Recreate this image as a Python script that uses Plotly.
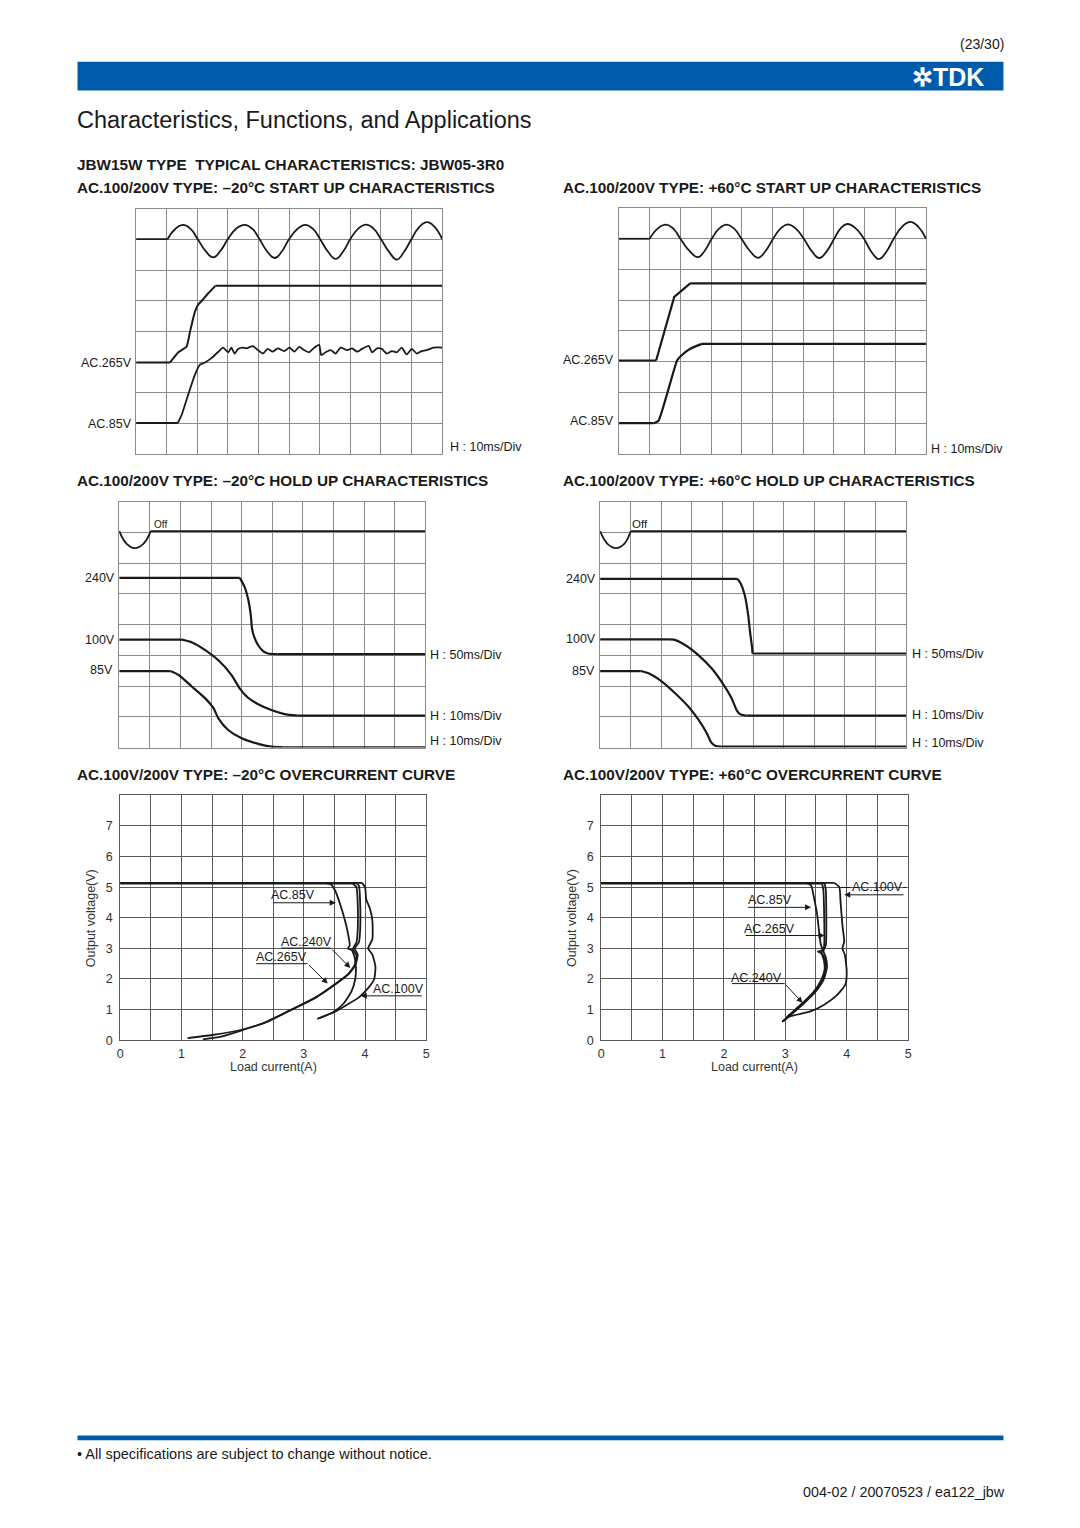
import plotly.graph_objects as go

W, H = 1080, 1528

# ---------------- DATA (division units for scope charts) ----------------
# Chart 1: -20C start up
c1_ac_x = [0, 1.03, 1.28, 1.54, 1.78, 2.01, 2.26, 2.52, 2.76, 3.0, 3.26, 3.55, 3.8, 4.03, 4.27, 4.53, 4.77,
           5.0, 5.27, 5.53, 5.78, 6.01, 6.26, 6.52, 6.77, 7.0, 7.26, 7.52, 7.76, 8.0, 8.26, 8.52, 8.76,
           9.0, 9.25, 9.51, 9.76, 10.0]
c1_ac_y = [7.02, 7.02, 7.35, 7.48, 7.35, 7.02, 6.64, 6.42, 6.64, 7.02, 7.35, 7.48, 7.35, 7.02, 6.63, 6.40, 6.63,
           7.02, 7.35, 7.48, 7.35, 7.02, 6.62, 6.37, 6.62, 7.02, 7.36, 7.49, 7.36, 7.02, 6.61, 6.35, 6.61,
           7.02, 7.41, 7.57, 7.41, 7.02]
c1_265_x = [0, 1.11, 1.38, 1.65, 1.76, 1.92, 2.03, 2.16, 2.35, 2.59, 10.0]
c1_265_y = [2.99, 2.99, 3.32, 3.51, 3.99, 4.64, 4.88, 5.02, 5.24, 5.49, 5.49]
c1_85_x = [0, 1.36, 1.49, 1.70, 1.92, 2.08, 2.24, 2.45, 2.67,
           2.84, 3.01, 3.11, 3.22, 3.33, 3.49, 3.60, 3.82, 3.98, 4.14,
           4.30, 4.46, 4.63, 4.84, 5.01, 5.17, 5.33, 5.49, 5.65, 5.82,
           5.98, 6.05, 6.19, 6.36, 6.52, 6.68, 6.90, 7.06, 7.22, 7.38,
           7.60, 7.71, 7.87, 8.03, 8.19, 8.36, 8.52, 8.68, 8.84, 9.01,
           9.17, 9.33, 9.49, 9.71, 9.87, 10.0]
c1_85_y = [1.01, 1.01, 1.28, 1.93, 2.58, 2.91, 2.98, 3.12, 3.32,
           3.47, 3.32, 3.47, 3.28, 3.43, 3.47, 3.45, 3.52, 3.39, 3.28,
           3.43, 3.34, 3.45, 3.36, 3.47, 3.34, 3.50, 3.39, 3.32, 3.47,
           3.56, 3.23, 3.32, 3.39, 3.28, 3.47, 3.39, 3.45, 3.34, 3.43,
           3.53, 3.32, 3.45, 3.43, 3.28, 3.36, 3.32, 3.47, 3.25, 3.43,
           3.28, 3.36, 3.39, 3.47, 3.48, 3.47]

# Chart 2: +60C start up
c2_ac_x = [0, 1.0, 1.26, 1.53, 1.77, 2.0, 2.28, 2.57, 2.8, 3.02, 3.26, 3.51, 3.75, 3.99, 4.26, 4.53, 4.78,
           5.02, 5.26, 5.5, 5.76, 6.02, 6.28, 6.53, 6.77, 7.01, 7.22, 7.44, 7.71, 7.98, 8.22, 8.47, 8.71,
           8.95, 9.22, 9.49, 9.75, 10.0]
c2_ac_y = [7.0, 7.0, 7.33, 7.46, 7.33, 7.0, 6.62, 6.40, 6.62, 7.0, 7.33, 7.46, 7.33, 7.0, 6.61, 6.38, 6.61,
           7.0, 7.33, 7.47, 7.33, 7.0, 6.60, 6.37, 6.60, 7.0, 7.34, 7.48, 7.34, 7.0, 6.58, 6.34, 6.58,
           7.0, 7.39, 7.55, 7.39, 7.0]
c2_265_x = [0, 1.21, 1.80, 2.32, 10.0]
c2_265_y = [3.04, 3.04, 5.11, 5.55, 5.55]
c2_85_x = [0, 1.13, 1.29, 1.89, 2.0, 2.32, 2.70, 10.0]
c2_85_y = [1.0, 1.0, 1.08, 3.04, 3.17, 3.42, 3.58, 3.58]

# Chart 3: -20C hold up
c3_ac_x = [0, 0.25, 0.5, 0.78, 1.03, 10.0]
c3_ac_y = [7.04, 6.62, 6.49, 6.62, 7.04, 7.04]
c3_240_x = [0, 3.94, 4.10, 4.21, 4.30, 4.34, 4.41, 4.54, 4.70, 4.86, 5.18, 10.0]
c3_240_y = [5.52, 5.52, 5.22, 4.84, 4.30, 3.87, 3.60, 3.33, 3.14, 3.06, 3.04, 3.04]
c3_100_x = [0, 2.05, 2.38, 2.81, 3.24, 3.67, 3.94, 4.21, 4.54, 4.97, 5.40, 5.83, 10.0]
c3_100_y = [3.51, 3.51, 3.42, 3.17, 2.84, 2.36, 1.92, 1.62, 1.41, 1.22, 1.09, 1.04, 1.04]
c3_85_x = [0, 1.67, 1.94, 2.38, 2.81, 3.08, 3.24, 3.56, 4.0, 4.54, 4.97, 5.40, 10.0]
c3_85_y = [2.49, 2.49, 2.36, 1.98, 1.60, 1.28, 0.95, 0.57, 0.30, 0.12, 0.03, 0.01, 0.01]

# Chart 4: +60C hold up
c4_ac_x = [0, 0.25, 0.52, 0.78, 1.0, 10.0]
c4_ac_y = [7.04, 6.62, 6.49, 6.62, 7.04, 7.04]
c4_240_x = [0, 4.49, 4.60, 4.73, 4.84, 4.90, 4.97, 4.98, 10.0]
c4_240_y = [5.49, 5.49, 5.33, 4.95, 4.30, 3.76, 3.22, 3.06, 3.06]
c4_100_x = [0, 2.25, 2.41, 2.79, 3.22, 3.65, 4.03, 4.30, 4.46, 4.57, 4.78, 10.0]
c4_100_y = [3.52, 3.52, 3.51, 3.33, 3.0, 2.57, 2.05, 1.60, 1.22, 1.09, 1.04, 1.04]
c4_85_x = [0, 1.33, 1.60, 2.03, 2.46, 2.89, 3.22, 3.49, 3.63, 3.76, 3.97, 10.0]
c4_85_y = [2.49, 2.49, 2.41, 2.14, 1.76, 1.33, 0.90, 0.46, 0.17, 0.06, 0.03, 0.03]

# Chart 5: -20C overcurrent (A, V)
c5_85_x = [0, 3.35, 3.45, 3.52, 3.60, 3.66, 3.72, 3.75, 3.72, 3.78, 3.83, 3.85, 3.84, 3.78, 3.65, 3.50, 3.35, 3.22]
c5_85_y = [5.14, 5.14, 5.08, 4.85, 4.40, 4.00, 3.50, 3.10, 3.00, 2.95, 2.70, 2.40, 2.00, 1.60, 1.20, 0.95, 0.80, 0.70]
c5_100_x = [0, 3.95, 4.00, 4.02, 4.08, 4.12, 4.12, 4.05, 4.12, 4.17, 4.15, 4.05, 3.90, 3.70, 3.50, 3.25]
c5_100_y = [5.14, 5.14, 5.00, 4.60, 4.30, 3.90, 3.30, 3.00, 2.80, 2.40, 2.00, 1.70, 1.40, 1.15, 0.92, 0.72]
c5_240_x = [0, 3.85, 3.90, 3.92, 3.92, 3.90, 3.83, 3.88, 3.85, 3.75, 3.50, 3.20, 2.80, 2.40, 2.00, 1.50, 1.10]
c5_240_y = [5.14, 5.14, 5.05, 4.50, 3.60, 3.20, 3.00, 2.80, 2.50, 2.20, 1.80, 1.40, 1.00, 0.60, 0.35, 0.17, 0.07]
c5_265_x = [0, 3.80, 3.86, 3.88, 3.88, 3.86, 3.80, 3.86, 3.83, 3.72, 3.45, 3.15, 2.75, 2.35, 1.95, 1.65, 1.35]
c5_265_y = [5.12, 5.12, 5.00, 4.50, 3.60, 3.20, 2.98, 2.78, 2.45, 2.15, 1.75, 1.35, 0.95, 0.57, 0.30, 0.12, 0.03]

# Chart 6: +60C overcurrent (A, V)
c6_85_x = [0, 3.34, 3.42, 3.47, 3.52, 3.55, 3.58, 3.61, 3.53, 3.58, 3.64, 3.66, 3.63, 3.53, 3.37, 3.20, 3.04, 2.95]
c6_85_y = [5.14, 5.14, 5.06, 4.63, 4.09, 3.55, 3.11, 2.93, 2.90, 2.85, 2.68, 2.46, 2.09, 1.71, 1.38, 1.06, 0.74, 0.61]
c6_265_x = [0, 3.64, 3.66, 3.66, 3.62, 3.66, 3.68, 3.63, 3.50, 3.30, 3.10, 2.95]
c6_265_y = [5.14, 5.14, 4.90, 3.10, 2.92, 2.70, 2.40, 2.00, 1.60, 1.20, 0.85, 0.60]
c6_240_x = [0, 3.60, 3.62, 3.63, 3.59, 3.63, 3.64, 3.58, 3.45, 3.25, 3.05, 2.97]
c6_240_y = [5.12, 5.12, 4.90, 3.05, 2.90, 2.60, 2.30, 1.95, 1.55, 1.15, 0.80, 0.62]
c6_100_x = [0, 3.80, 3.88, 3.90, 3.93, 3.96, 3.93, 3.97, 4.00, 3.98, 3.85, 3.64, 3.42, 3.20, 3.04]
c6_100_y = [5.14, 5.14, 5.00, 4.52, 3.76, 3.22, 3.00, 2.79, 2.25, 1.82, 1.49, 1.17, 0.95, 0.84, 0.76]

oc_xticks = [0, 0.5, 1, 1.5, 2, 2.5, 3, 3.5, 4, 4.5, 5]
oc_xtext = ["0", "", "1", "", "2", "", "3", "", "4", "", "5"]
oc_yticks = [0, 1, 2, 3, 4, 5, 6, 7, 8]
oc_ytext = ["0", "1", "2", "3", "4", "5", "6", "7", ""]

# ---------------- LAYOUT HELPERS ----------------
def dx(x0, x1):
    return [x0 / W, x1 / W]

def dy(y0, y1):
    return [1 - y1 / H, 1 - y0 / H]

def px(x):
    return x / W

def py(y):
    return 1 - y / H

FONT = "Liberation Sans, Arial, Helvetica, sans-serif"
INK = "#1a1a1a"

# chart boxes in page pixels: (x0, x1, y0, y1)
boxes = {
    1: (134, 442, 210, 456),
    2: (620, 929, 209, 456),
    3: (117, 425, 504, 751),
    4: (601, 909, 504, 751),
    5: (118, 426, 799, 1045),
    6: (602, 911, 799, 1045),
}

fig = go.Figure()

def _trace(n, xs, ys, width, shape, smooth):
    line = dict(color=INK, width=width, shape=shape)
    if shape == "spline":
        line["smoothing"] = smooth
    fig.add_trace(go.Scatter(
        x=xs, y=ys, mode="lines",
        xaxis="x" if n == 1 else f"x{n}", yaxis="y" if n == 1 else f"y{n}",
        line=line, hoverinfo="skip", showlegend=False))

def add_line(n, xs, ys, width=2.0, smooth=0.6):
    """Flat leading / trailing runs drawn straight, the transition smoothed."""
    m = len(xs)
    i0 = 0
    while i0 + 1 < m and ys[i0 + 1] == ys[0]:
        i0 += 1
    i1 = m - 1
    while i1 - 1 > i0 and ys[i1 - 1] == ys[-1]:
        i1 -= 1
    if i0 > 0:
        _trace(n, xs[:i0 + 1], ys[:i0 + 1], width, "linear", 0)
    if i1 > i0:
        _trace(n, xs[i0:i1 + 1], ys[i0:i1 + 1], width, "spline" if i1 - i0 > 1 else "linear", smooth)
    if i1 < m - 1:
        _trace(n, xs[i1:], ys[i1:], width, "linear", 0)

# scope charts
add_line(1, c1_ac_x, c1_ac_y, 1.8, 1.3)
add_line(1, c1_265_x, c1_265_y, 2.0, 0.5)
add_line(1, c1_85_x, c1_85_y, 1.8, 0.6)
add_line(2, c2_ac_x, c2_ac_y, 1.8, 1.3)
add_line(2, c2_265_x, c2_265_y, 2.2, 0.0)
add_line(2, c2_85_x, c2_85_y, 2.2, 0.4)
add_line(3, c3_ac_x, c3_ac_y, 1.8, 1.2)
add_line(3, c3_240_x, c3_240_y, 2.2, 0.6)
add_line(3, c3_100_x, c3_100_y, 2.2, 0.6)
add_line(3, c3_85_x, c3_85_y, 2.2, 0.6)
add_line(4, c4_ac_x, c4_ac_y, 1.8, 1.2)
add_line(4, c4_240_x, c4_240_y, 2.2, 0.5)
add_line(4, c4_100_x, c4_100_y, 2.2, 0.6)
add_line(4, c4_85_x, c4_85_y, 2.2, 0.6)
# overcurrent
for xs, ys in [(c5_85_x, c5_85_y), (c5_100_x, c5_100_y), (c5_240_x, c5_240_y), (c5_265_x, c5_265_y)]:
    add_line(5, xs, ys, 1.8, 0.5)
for xs, ys in [(c6_85_x, c6_85_y), (c6_265_x, c6_265_y), (c6_240_x, c6_240_y), (c6_100_x, c6_100_y)]:
    add_line(6, xs, ys, 1.8, 0.5)

layout = dict(
    width=W, height=H, margin=dict(l=0, r=0, t=0, b=0),
    paper_bgcolor="white", plot_bgcolor="white",
    font=dict(family=FONT, color="#1a1a1a", size=12),
    showlegend=False,
)

for n, (x0, x1, y0, y1) in boxes.items():
    xa = "xaxis" if n == 1 else f"xaxis{n}"
    ya = "yaxis" if n == 1 else f"yaxis{n}"
    anchor_x = "y" if n == 1 else f"y{n}"
    anchor_y = "x" if n == 1 else f"x{n}"
    if n <= 4:
        gc = "#8c8c8c"
        layout[xa] = dict(domain=dx(x0, x1), anchor=anchor_x, range=[0, 10], dtick=1,
                          showgrid=True, gridcolor=gc, gridwidth=1, zeroline=False,
                          showline=True, mirror=True, linecolor=gc, linewidth=1,
                          showticklabels=False, ticks="", fixedrange=True)
        layout[ya] = dict(domain=dy(y0, y1), anchor=anchor_y, range=[0, 8], dtick=1,
                          showgrid=True, gridcolor=gc, gridwidth=1, zeroline=False,
                          showline=True, mirror=True, linecolor=gc, linewidth=1,
                          showticklabels=False, ticks="", fixedrange=True)
    else:
        gc = "#5a5a5a"
        layout[xa] = dict(domain=dx(x0, x1), anchor=anchor_x, range=[0, 5],
                          tickvals=oc_xticks, ticktext=oc_xtext,
                          showgrid=True, gridcolor=gc, gridwidth=1, zeroline=False,
                          showline=True, mirror=True, linecolor=gc, linewidth=1,
                          ticks="", ticklabelstandoff=2,
                          tickfont=dict(size=12.5, color="#333"), fixedrange=True)
        layout[ya] = dict(domain=dy(y0, y1), anchor=anchor_y, range=[0, 8],
                          tickvals=oc_yticks, ticktext=oc_ytext,
                          showgrid=True, gridcolor=gc, gridwidth=1, zeroline=False,
                          showline=True, mirror=True, linecolor=gc, linewidth=1,
                          ticks="", ticklabelstandoff=4,
                          tickfont=dict(size=12.5, color="#333"), fixedrange=True)

fig.update_layout(**layout)

ann = []
shapes = []
PAD = 2.5

def ptext(x, y, text, size=12.5, xanchor="left", bold=False, color="#1a1a1a"):
    t = f"<b>{text}</b>" if bold else text
    if xanchor == "left":
        x = x - PAD
    elif xanchor == "right":
        x = x + PAD
    ann.append(dict(x=px(x), y=py(y), xref="paper", yref="paper", text=t, showarrow=False,
                    xanchor=xanchor, yanchor="middle",
                    font=dict(size=size, color=color, family=FONT)))

# header and footer bars
shapes.append(dict(type="rect", xref="paper", yref="paper", x0=px(75), x1=px(1007), y0=py(91), y1=py(62),
                   fillcolor="#005BAA", line=dict(width=0), layer="below"))
shapes.append(dict(type="rect", xref="paper", yref="paper", x0=px(75), x1=px(1007), y0=py(1447), y1=py(1442),
                   fillcolor="#005BAA", line=dict(width=0), layer="below"))
ptext(1007, 44, "(23/30)", 14, "right")
ptext(987, 77, "<b>✲TDK</b>", 25, "right", color="white")
ptext(75, 121, "Characteristics, Functions, and Applications", 23.5)

HS = 15.3
ptext(75, 165, "JBW15W TYPE\u00a0\u00a0TYPICAL CHARACTERISTICS: JBW05-3R0", HS, bold=True)
ptext(75, 188, "AC.100/200V TYPE: –20°C START UP CHARACTERISTICS", HS, bold=True)
ptext(564, 188, "AC.100/200V TYPE: +60°C START UP CHARACTERISTICS", HS, bold=True)
ptext(75, 483, "AC.100/200V TYPE: –20°C HOLD UP CHARACTERISTICS", HS, bold=True)
ptext(564, 483, "AC.100/200V TYPE: +60°C HOLD UP CHARACTERISTICS", HS, bold=True)
ptext(75, 778, "AC.100V/200V TYPE: –20°C OVERCURRENT CURVE", HS, bold=True)
ptext(564, 778, "AC.100V/200V TYPE: +60°C OVERCURRENT CURVE", HS, bold=True)

# chart 1 labels
ptext(129, 365, "AC.265V", xanchor="right")
ptext(129, 426, "AC.85V", xanchor="right")
ptext(450, 449, "H : 10ms/Div")
# chart 2 labels
ptext(615, 362, "AC.265V", xanchor="right")
ptext(615, 423, "AC.85V", xanchor="right")
ptext(935, 451, "H : 10ms/Div")
# chart 3 labels
ptext(152, 527, "Off", 10)
ptext(112, 581, "240V", xanchor="right")
ptext(112, 643, "100V", xanchor="right")
ptext(110, 673, "85V", xanchor="right")
ptext(430, 658, "H : 50ms/Div")
ptext(430, 719, "H : 10ms/Div")
ptext(430, 744, "H : 10ms/Div")
# chart 4 labels
ptext(634, 526, "Off", 11.5)
ptext(596, 582, "240V", xanchor="right")
ptext(596, 642, "100V", xanchor="right")
ptext(595, 674, "85V", xanchor="right")
ptext(915, 657, "H : 50ms/Div")
ptext(915, 718, "H : 10ms/Div")
ptext(915, 746, "H : 10ms/Div")

# overcurrent axis titles
for xc in (88, 572):
    ann.append(dict(x=px(xc), y=py(922), xref="paper", yref="paper", text="Output voltage(V)", textangle=-90,
                    showarrow=False, xanchor="center", yanchor="middle",
                    font=dict(size=12.5, color="#333", family=FONT)))
ptext(272, 1072, "Load current(A)", 12.5, "center", color="#333")
ptext(756, 1072, "Load current(A)", 12.5, "center", color="#333")

# footer
ptext(75, 1461, "• All specifications are subject to change without notice.", 14.5)
ptext(1008, 1499, "004-02 / 20070523 / ea122_jbw", 14.3, "right")

# curve labels
def dtext(n, x, y, text):
    ann.append(dict(x=x, y=y, xref=f"x{n}", yref=f"y{n}", text=text, showarrow=False,
                    xanchor="center", yanchor="middle", font=dict(size=12.5, color="#1a1a1a", family=FONT)))

def darrow(n, x0, y0, x1, y1):
    ann.append(dict(x=x1, y=y1, ax=x0, ay=y0, xref=f"x{n}", yref=f"y{n}", axref=f"x{n}", ayref=f"y{n}",
                    text="", showarrow=True, arrowhead=2, arrowsize=1.2, arrowwidth=1,
                    arrowcolor="#1a1a1a", standoff=0, startstandoff=0))

def dline(n, x0, y0, x1, y1):
    shapes.append(dict(type="line", xref=f"x{n}", yref=f"y{n}", x0=x0, y0=y0, x1=x1, y1=y1,
                       line=dict(color="#1a1a1a", width=1)))

# chart 5 labels
dtext(5, 2.82, 4.73, "AC.85V")
darrow(5, 2.47, 4.49, 3.52, 4.49)
dtext(5, 3.05, 3.21, "AC.240V")
dline(5, 2.63, 3.01, 3.44, 3.01)
darrow(5, 3.44, 3.01, 3.76, 2.36)
dtext(5, 2.64, 2.72, "AC.265V")
dline(5, 2.22, 2.50, 3.06, 2.50)
darrow(5, 3.06, 2.50, 3.39, 1.85)
dtext(5, 4.54, 1.67, "AC.100V")
darrow(5, 4.95, 1.45, 3.93, 1.45)

# chart 6 labels
dtext(6, 2.75, 4.57, "AC.85V")
darrow(6, 2.37, 4.34, 3.42, 4.34)
dtext(6, 2.74, 3.63, "AC.265V")
darrow(6, 2.33, 3.42, 3.64, 3.42)
dtext(6, 2.53, 2.03, "AC.240V")
dline(6, 2.13, 1.85, 2.99, 1.85)
darrow(6, 2.99, 1.85, 3.28, 1.22)
dtext(6, 4.50, 5.00, "AC.100V")
dline(6, 3.90, 4.99, 4.06, 4.99)
dline(6, 4.92, 4.99, 4.96, 4.99)
darrow(6, 4.95, 4.75, 3.96, 4.75)

fig.update_layout(annotations=ann, shapes=shapes)
fig.write_html("out.html")
